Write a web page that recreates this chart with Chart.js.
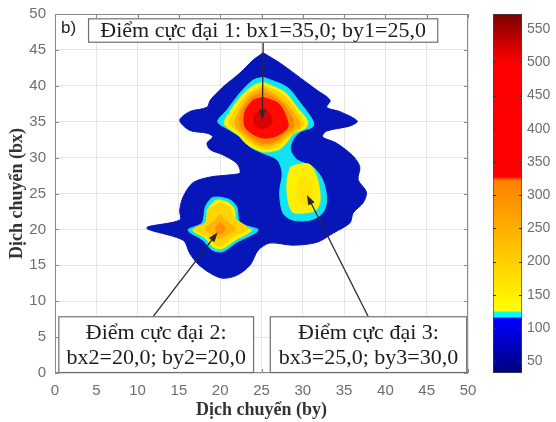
<!DOCTYPE html>
<html>
<head>
<meta charset="utf-8">
<script src="https://cdn.jsdelivr.net/npm/chart.js@4.4.1/dist/chart.umd.min.js"></script>
<style>
  body { margin: 0; background: #fff; }
  #wrap { position: relative; width: 556px; height: 422px; }
  #mainChart { position: absolute; left: 0; top: 0; }
  #barChart { position: absolute; left: 480px; top: 0; }
</style>
</head>
<body>
<div id="wrap">
  <canvas id="mainChart" width="480" height="422"></canvas>
  <canvas id="barChart" width="76" height="422"></canvas>
</div>
<script>
// Nhãn trục
const trucX = [0, 5, 10, 15, 20, 25, 30, 35, 40, 45, 50];
const trucY = [0, 5, 10, 15, 20, 25, 30, 35, 40, 45, 50];
const vachThangMau = [50, 100, 150, 200, 250, 300, 350, 400, 450, 500, 550];

// Thang màu (giá trị -> màu)
const thangMauMin = 32;
const thangMauMax = 573;
const thangMauGiaTri = [32, 114, 117, 123, 126, 322, 328, 500, 573];
const thangMauMau = ['#00007c', '#0000ff', '#00ffff', '#00ffff', '#ffff00', '#ff8000', '#ff0000', '#ff0000', '#7c0000'];

// Đường đồng mức: [by, bx]
const vienNgoai = [[25.2,44.6],[27.2,43.2],[29.7,41.1],[31.7,39.4],[33.3,38.0],[32.9,37.0],[34.5,36.4],[36.6,35.1],
  [35.7,34.4],[32.9,33.7],[32.4,32.9],[34.1,32.0],[36.1,30.2],[36.9,28.7],[36.7,26.9],[37.7,25.2],[37.3,23.7],
  [36.1,22.3],[35.7,20.9],[33.7,19.5],[31.7,18.2],[28.8,17.8],[26.0,18.1],[24.6,17.1],[23.6,15.0],[22.0,13.6],
  [20.3,13.2],[18.8,13.9],[17.2,15.3],[16.3,16.7],[15.5,18.5],[11.1,20.2],[15.1,21.3],[15.1,22.7],[15.5,24.5],
  [16.7,26.5],[18.8,27.3],[21.2,27.6],[22.4,27.9],[22.0,29.2],[20.3,30.4],[18.8,31.1],[18.4,32.0],[19.1,32.9],
  [18.4,33.4],[16.3,33.8],[15.1,35.2],[16.3,36.4],[18.4,37.0],[18.8,38.0],[20.3,39.8],[22.4,41.8],[24.0,43.6]];
const cyanTren = [[25.2,41.2],[28.1,39.8],[29.7,37.6],[31.2,35.2],[31.2,34.3],[29.7,33.6],[28.8,32.5],[28.5,31.1],
  [29.3,29.7],[31.2,28.7],[32.4,26.9],[32.9,24.1],[32.4,22.3],[30.9,21.3],[28.8,21.3],[27.6,22.3],[27.2,25.1],
  [27.5,27.9],[26.9,29.7],[25.2,30.6],[23.6,31.5],[22.4,32.9],[21.2,33.8],[19.7,35.0],[20.8,36.6],[22.4,39.0],[24.0,40.8]];
const vangTren = [[25.2,40.5],[27.8,39.1],[29.3,37.0],[30.6,35.0],[30.3,34.1],[28.8,33.3],[28.1,32.2],[27.2,31.2],
  [25.2,30.8],[23.2,31.9],[22.2,33.1],[20.5,34.7],[21.2,36.4],[22.6,38.6],[24.0,40.0]];
const vangCamTren = [[25.2,40.1],[27.7,38.6],[29.2,36.5],[30.1,34.7],[29.4,33.8],[28.3,33.0],[27.6,32.2],[26.6,31.5],
  [25.2,31.2],[23.4,32.3],[22.2,33.7],[21.1,34.7],[21.8,36.5],[23.1,38.6],[24.1,39.4]];
const camTren = [[25.2,39.7],[27.5,38.0],[29.1,35.9],[29.7,34.5],[28.5,33.6],[27.2,32.2],[25.2,31.6],[23.4,32.7],
  [21.8,34.5],[22.4,36.6],[23.6,38.7]];
const camDamTren = [[25.2,39.1],[27.2,37.9],[28.5,36.1],[28.9,34.4],[27.8,33.4],[26.8,32.3],[25.2,32.0],[23.7,32.9],
  [22.4,34.4],[22.6,36.4],[23.7,38.3]];
const doTren = [[25.2,38.4],[27.0,37.6],[27.8,36.2],[28.2,34.3],[27.0,33.1],[25.5,32.7],[24.2,33.1],[23.0,34.3],
  [23.0,36.4],[24.0,38.0]];
const doDamTren = [[25.2,36.9],[26.0,36.1],[26.3,35.0],[25.4,34.1],[24.3,34.4],[24.1,35.7]];
const vangPhai = [[28.5,28.7],[29.7,29.1],[30.9,29.0],[31.8,26.9],[32.1,24.1],[31.6,22.7],[30.3,22.3],[28.8,22.4],
  [28.2,24.1],[28.1,26.9]];
const loiPhai = [[29.6,27.2],[30.7,27.2],[31.1,24.6],[30.3,23.4],[29.3,24.4]];
const cyanTrai = [[20.0,24.5],[21.2,24.1],[22.0,23.1],[22.4,20.9],[24.6,19.9],[22.0,18.2],[20.3,16.9],[19.1,17.1],
  [17.9,18.5],[16.1,19.9],[17.8,20.9],[18.2,23.1],[19.0,24.4]];
const vangTrai = [[20.0,24.1],[21.0,23.7],[21.7,22.8],[22.0,20.6],[23.8,19.9],[21.8,18.5],[20.2,17.3],[19.2,17.5],
  [18.2,18.8],[16.7,19.9],[18.2,20.8],[18.5,22.8],[19.4,24.0]];
const vangCamTrai = [[20.0,23.7],[21.1,23.0],[21.7,21.6],[23.4,20.1],[21.7,19.1],[20.2,17.8],[19.4,18.0],[18.3,19.1],
  [16.9,20.1],[18.3,21.0],[18.6,22.7]];
const camTrai = [[20.0,22.1],[20.8,21.1],[21.9,20.1],[20.8,19.2],[20.0,18.7],[19.2,19.2],[18.2,20.1],[19.2,21.1]];
const doTrai = [[20.0,21.0],[20.6,20.1],[20.0,19.3],[19.4,20.1]];

// Vùng tô, từ ngoài vào trong
const vungTo = [
  { pts: vienNgoai, mau: '#0716b8' },
  { pts: cyanTren, mau: '#10e4f4' },
  { pts: cyanTrai, mau: '#10e4f4' },
  { pts: vangTren, mau: '#fff000' },
  { pts: vangPhai, mau: '#fff000' },
  { pts: vangTrai, mau: '#fff000' },
  { pts: loiPhai, mau: '#ffe400' },
  { pts: vangCamTren, mau: '#ffcf00' },
  { pts: vangCamTrai, mau: '#ffd400' },
  { pts: camTrai, mau: '#ffb400' },
  { pts: camTren, mau: '#ffac00' },
  { pts: doTrai, mau: '#ff9000' },
  { pts: camDamTren, mau: '#ff8800' },
  { pts: doTren, mau: '#ff0a00' },
  { pts: doDamTren, mau: '#d80000' }
];

// Hộp chú thích và mũi tên (toạ độ dữ liệu)
const chuThich = [
  { dong: ['Điểm cực đại 1: bx1=35,0; by1=25,0'], hop: [4.0, 49.4, 46.4, 46.0], tu: [25.2, 46.0], den: [25.1, 35.3] },
  { dong: ['Điểm cực đại 2:', 'bx2=20,0; by2=20,0'], hop: [0.4, 7.9, 24.1, 0], tu: [11.9, 7.9], den: [19.7, 19.6] },
  { dong: ['Điểm cực đại 3:', 'bx3=25,0; by3=30,0'], hop: [26.0, 7.9, 49.9, 0], tu: [37.9, 7.9], den: [30.5, 24.8] }
];

const khungPlugin = {
  id: 'khung',
  afterDatasetsDraw(chart) {
    const { ctx, chartArea: a, scales } = chart;
    ctx.save();
    ctx.strokeStyle = '#8a8a8a';
    ctx.lineWidth = 1;
    ctx.strokeRect(a.left + 0.5, a.top + 0.5, a.right - a.left - 1, a.bottom - a.top - 1);
    ctx.beginPath();
    trucX.forEach(v => {
      const px = Math.round(scales.x.getPixelForValue(v)) + 0.5;
      ctx.moveTo(px, a.top); ctx.lineTo(px, a.top + 4);
      ctx.moveTo(px, a.bottom); ctx.lineTo(px, a.bottom - 4);
    });
    trucY.forEach(v => {
      const py = Math.round(scales.y.getPixelForValue(v)) + 0.5;
      ctx.moveTo(a.left, py); ctx.lineTo(a.left + 4, py);
      ctx.moveTo(a.right, py); ctx.lineTo(a.right - 4, py);
    });
    ctx.stroke();
    ctx.fillStyle = '#222';
    ctx.font = '17px "Liberation Sans", Arial, sans-serif';
    ctx.textBaseline = 'middle';
    ctx.fillText('b)', a.left + 6, a.top + 14);
    ctx.restore();
  },
  afterDraw(chart) {
    const { ctx, scales } = chart;
    const X = v => scales.x.getPixelForValue(v);
    const Y = v => scales.y.getPixelForValue(v);
    ctx.save();
    chuThich.forEach(c => {
      // mũi tên
      const x1 = X(c.tu[0]), y1 = Y(c.tu[1]), x2 = X(c.den[0]), y2 = Y(c.den[1]);
      const ang = Math.atan2(y2 - y1, x2 - x1);
      ctx.strokeStyle = '#2a2a2a';
      ctx.fillStyle = '#2a2a2a';
      ctx.lineWidth = 1.3;
      ctx.beginPath();
      ctx.moveTo(x1, y1);
      ctx.lineTo(x2 - 6 * Math.cos(ang), y2 - 6 * Math.sin(ang));
      ctx.stroke();
      ctx.beginPath();
      ctx.moveTo(x2, y2);
      ctx.lineTo(x2 - 10 * Math.cos(ang) + 3.5 * Math.sin(ang), y2 - 10 * Math.sin(ang) - 3.5 * Math.cos(ang));
      ctx.lineTo(x2 - 10 * Math.cos(ang) - 3.5 * Math.sin(ang), y2 - 10 * Math.sin(ang) + 3.5 * Math.cos(ang));
      ctx.closePath();
      ctx.fill();
      // hộp
      const bx = X(c.hop[0]), by = Y(c.hop[1]), bw = X(c.hop[2]) - bx, bh = Y(c.hop[3]) - by;
      ctx.fillStyle = '#fff';
      ctx.fillRect(bx, by, bw, bh);
      ctx.strokeStyle = '#707070';
      ctx.lineWidth = 1.2;
      ctx.strokeRect(bx + 0.5, by + 0.5, bw - 1, bh - 1);
      ctx.fillStyle = '#1c1c1c';
      ctx.font = '22px "Liberation Serif", "Times New Roman", serif';
      ctx.textAlign = 'center';
      ctx.textBaseline = 'middle';
      const cx = bx + bw / 2, cy = by + bh / 2;
      const n = c.dong.length;
      c.dong.forEach((t, i) => ctx.fillText(t, cx, cy + (i - (n - 1) / 2) * 25 + 1));
    });
    ctx.restore();
  }
};

new Chart(document.getElementById('mainChart'), {
  type: 'scatter',
  data: {
    datasets: vungTo.map((v, i) => ({
      data: v.pts.concat([v.pts[0]]).map(p => ({ x: p[0], y: p[1] })),
      showLine: true,
      fill: 'shape',
      backgroundColor: v.mau,
      borderColor: v.mau,
      borderWidth: 1,
      pointRadius: 0,
      tension: 0.3,
      order: vungTo.length - i
    }))
  },
  options: {
    responsive: false,
    animation: false,
    events: [],
    layout: { padding: { top: 14, right: 12, left: 0, bottom: 0 } },
    plugins: { legend: { display: false }, tooltip: { enabled: false } },
    scales: {
      x: {
        type: 'linear', min: 0, max: 50,
        afterBuildTicks: s => { s.ticks = trucX.map(v => ({ value: v })); },
        afterFit: s => { s.height = 49; s.paddingLeft = 0; s.paddingRight = 0; },
        grid: { color: '#e6e6e6', drawTicks: false },
        border: { display: false },
        ticks: { color: '#6e6e6e', padding: 9, font: { family: '"Liberation Sans", Arial, sans-serif', size: 15 } },
        title: { display: true, text: 'Dịch chuyển (by)', color: '#333', padding: { top: 0, bottom: 1 },
          font: { family: '"Liberation Serif", "Times New Roman", serif', size: 18, weight: 'bold' } }
      },
      y: {
        type: 'linear', min: 0, max: 50,
        afterBuildTicks: s => { s.ticks = trucY.map(v => ({ value: v })); },
        afterFit: s => { s.width = 55; s.paddingTop = 0; s.paddingBottom = 0; },
        grid: { color: '#e6e6e6', drawTicks: false },
        border: { display: false },
        ticks: { color: '#6e6e6e', padding: 9, font: { family: '"Liberation Sans", Arial, sans-serif', size: 15 } },
        title: { display: true, text: 'Dịch chuyển (bx)', color: '#333', padding: { top: 7, bottom: 0 },
          font: { family: '"Liberation Serif", "Times New Roman", serif', size: 18, weight: 'bold' } }
      }
    }
  },
  plugins: [khungPlugin]
});

// Thanh màu
const vachPlugin = {
  id: 'vach',
  afterDatasetsDraw(chart) {
    const { ctx, chartArea: a, scales } = chart;
    ctx.save();
    ctx.strokeStyle = '#333';
    ctx.lineWidth = 1;
    ctx.beginPath();
    vachThangMau.forEach(v => {
      const py = Math.round(scales.y.getPixelForValue(v)) + 0.5;
      ctx.moveTo(a.right, py); ctx.lineTo(a.right - 3, py);
      ctx.moveTo(a.left, py); ctx.lineTo(a.left + 3, py);
    });
    ctx.stroke();
    ctx.restore();
  }
};

new Chart(document.getElementById('barChart'), {
  type: 'bar',
  data: {
    labels: [''],
    datasets: [{
      data: [[thangMauMin, thangMauMax]],
      backgroundColor: c => {
        const chart = c.chart;
        if (!chart.chartArea) return '#00f';
        const y = chart.scales.y;
        const y0 = y.getPixelForValue(thangMauMin), y1 = y.getPixelForValue(thangMauMax);
        const g = chart.ctx.createLinearGradient(0, y0, 0, y1);
        thangMauGiaTri.forEach((v, i) => g.addColorStop((v - thangMauMin) / (thangMauMax - thangMauMin), thangMauMau[i]));
        return g;
      },
      borderColor: '#444',
      borderWidth: 1,
      borderSkipped: false,
      barPercentage: 1,
      categoryPercentage: 1
    }]
  },
  options: {
    responsive: false,
    animation: false,
    events: [],
    layout: { padding: { top: 14, left: 13, right: 0, bottom: 49 } },
    plugins: { legend: { display: false }, tooltip: { enabled: false } },
    scales: {
      x: { display: false },
      y: {
        position: 'right', min: thangMauMin, max: thangMauMax,
        afterBuildTicks: s => { s.ticks = vachThangMau.map(v => ({ value: v })); },
        afterFit: s => { s.width = 34; s.paddingTop = 0; s.paddingBottom = 0; },
        grid: { display: false, drawTicks: false },
        border: { display: false },
        ticks: { color: '#6e6e6e', padding: 5, font: { family: '"Liberation Sans", Arial, sans-serif', size: 14 } }
      }
    }
  },
  plugins: [vachPlugin]
});
</script>
</body>
</html>
